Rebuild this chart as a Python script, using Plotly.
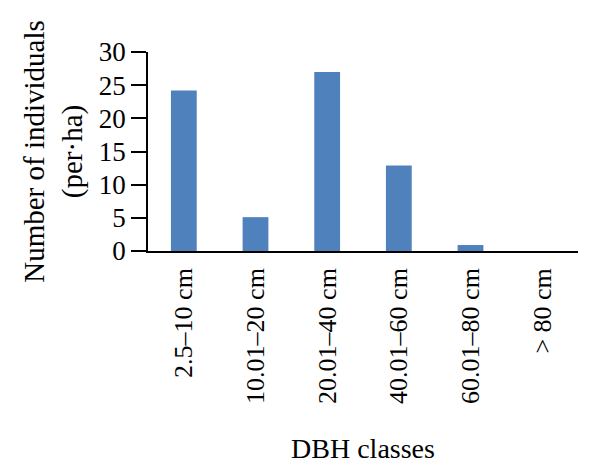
import plotly.graph_objects as go

categories = ["2.5–10 cm", "10.01–20 cm", "20.01–40 cm", "40.01–60 cm", "60.01–80 cm", "> 80 cm"]
values = [24.2, 5.1, 27.0, 12.9, 0.9, 0.0]
y_ticks = [0, 5, 10, 15, 20, 25, 30]

FONT = "Liberation Serif"

fig = go.Figure(go.Bar(x=categories, y=values, marker=dict(color="#4f81bd", line=dict(width=0))))

fig.update_layout(
    width=600, height=471,
    margin=dict(l=148, r=22, t=52, b=220),
    paper_bgcolor="white", plot_bgcolor="white",
    bargap=0.64,
    showlegend=False,
    font=dict(family=FONT, size=26, color="black"),
)
fig.update_xaxes(
    showline=True, linecolor="black", linewidth=1.5,
    ticks="", tickangle=-90, tickfont=dict(size=26), ticklabelstandoff=5,
    title=dict(text="DBH classes", font=dict(size=28), standoff=35),
    showgrid=False,
)
fig.update_yaxes(
    range=[0, 30], tickvals=y_ticks,
    showline=True, linecolor="black", linewidth=1.5,
    ticks="outside", ticklen=15, tickwidth=1.5, tickcolor="black",
    tickfont=dict(size=27),
    title=dict(text="Number of individuals<br>(per·ha)", font=dict(size=29), standoff=8),
    showgrid=False, zeroline=False,
)

fig.write_html("out.html", config={"displayModeBar": False},
               post_script="document.body.style.margin='0';")
